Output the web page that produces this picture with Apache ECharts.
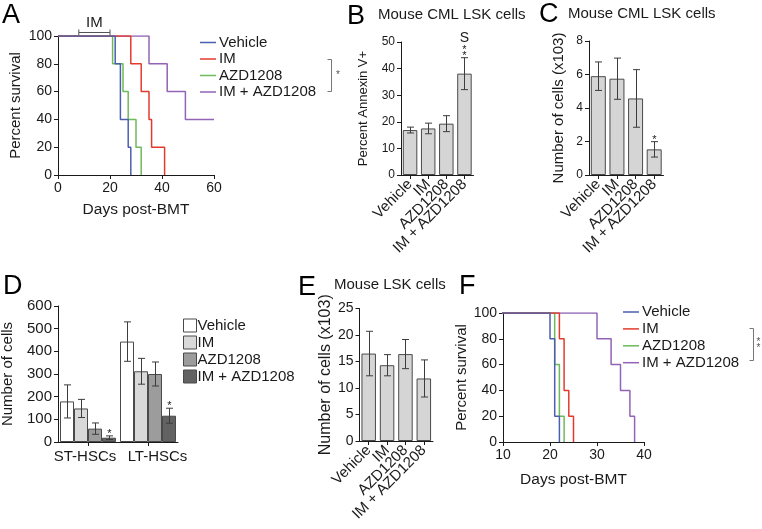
<!DOCTYPE html>
<html>
<head>
<meta charset="UTF-8">
<title>IM + AZD1208</title>
<style>
  html, body { margin: 0; padding: 0; background: #fff; }
  #fig { width: 762px; height: 529px; }
</style>
<script src="https://cdn.jsdelivr.net/npm/echarts@6/dist/echarts.min.js"></script>
</head>
<body>
<div id="fig"></div>
<script>
var groups = ['Vehicle', 'IM', 'AZD1208', 'IM + AZD1208'];

// A - survival (days post-BMT, percent)
var aVehicle = [[0, 100], [22, 80], [24, 40], [27, 20], [28, 0]];
var aIM = [[0, 100], [28, 80], [32, 60], [35, 40], [36, 20], [41, 0]];
var aAZD = [[0, 100], [21, 80], [25, 60], [27, 40], [30, 20], [32, 0]];
var aCombo = [[0, 100], [35, 80], [42, 60], [49, 40], [60, 40]];
var imDosing = [8, 20];

// B - percent annexin V+
var bMean = [16.9, 17.5, 19.3, 38.1];
var bErr = [1.1, 2.0, 3.0, 6.0];
var bStars = [0, 0, 0, 2];
var bExtra = ['', '', '', 'S'];

// C - number of cells (x103)
var cMean = [5.9, 5.75, 4.57, 1.53];
var cErr = [0.85, 1.23, 1.72, 0.46];
var cStars = [0, 0, 0, 1];

// D - number of cells
var dCats = ['ST-HSCs', 'LT-HSCs'];
var dMean = [[179, 443], [148, 312], [59, 300], [19, 116]];
var dErr = [[73, 87], [40, 57], [25, 53], [8, 33]];
var dStars = [[0, 0], [0, 0], [0, 0], [1, 1]];

// E - mouse LSK cells
var eMean = [16.5, 14.3, 16.4, 11.8];
var eErr = [4.2, 2.0, 2.75, 3.5];
var eStars = [0, 0, 0, 0];

// F - survival
var fVehicle = [[0, 100], [20, 80], [21, 20], [22, 0]];
var fIM = [[0, 100], [22, 80], [23, 40], [24, 20], [25, 0]];
var fAZD = [[0, 100], [21, 60], [22, 20], [23, 0]];
var fCombo = [[0, 100], [30, 80], [33, 60], [35, 40], [37, 20], [38, 0]];

var FONT = 'Liberation Sans, Arial, sans-serif';
var INK = '#1a1a1a';
var lineColors = ['#4b5fae', '#e23b2e', '#6cba5b', '#9263b6'];
var dColors = ['#ffffff', '#d9d9d9', '#9c9c9c', '#626262'];

var myChart = echarts.init(document.getElementById('fig'));

function valueAxis(grid, min, max, step, size, extra) {
  var ax = {
    type: 'value', gridIndex: grid, min: min, max: max, interval: step,
    splitLine: { show: false },
    axisLine: { show: true, onZero: false, lineStyle: { color: INK, width: 1 } },
    axisTick: { show: true, length: 4, lineStyle: { color: INK } },
    axisLabel: { color: INK, fontSize: size, fontFamily: FONT, margin: 6 },
    nameTextStyle: { color: INK, fontFamily: FONT, fontSize: 15 },
    nameLocation: 'middle'
  };
  return Object.assign(ax, extra || {});
}

function catAxis(grid, cats, size, rotate) {
  return {
    type: 'category', gridIndex: grid, data: cats,
    axisLine: { show: true, lineStyle: { color: INK, width: 1 } },
    axisTick: { show: true, alignWithLabel: true, length: 4, lineStyle: { color: INK } },
    axisLabel: { color: INK, fontSize: size, fontFamily: FONT, interval: 0, rotate: rotate, margin: 7 }
  };
}

function survival(name, data, color, xi) {
  return {
    type: 'line', name: name, xAxisIndex: xi, yAxisIndex: xi, data: data,
    step: 'end', symbol: 'none', clip: true, silent: true,
    lineStyle: { color: color, width: 1.5 }, itemStyle: { color: color }
  };
}

function plainBar(xi, vals, width) {
  return {
    type: 'bar', name: 'bars' + xi, xAxisIndex: xi, yAxisIndex: xi, data: vals,
    barWidth: width, silent: true,
    itemStyle: { color: '#d5d5d5', borderColor: '#4a4a4a', borderWidth: 1 }
  };
}

// error bars and significance marks, drawn on the panel's own scales
function errorBars(xi, means, errs, stars, slot, slots, barW, extra) {
  var rows = means.map(function (m, i) { return [i, m, errs[i], stars[i], extra ? extra[i] : '']; });
  return {
    type: 'custom', xAxisIndex: xi, yAxisIndex: xi, data: rows, silent: true, z: 5,
    renderItem: function (params, api) {
      var i = api.value(0), m = api.value(1), e = api.value(2), s = api.value(3);
      var ex = rows[params.dataIndex][4];
      var off = (slot - (slots - 1) / 2) * barW;
      var hi = api.coord([i, m + e]), lo = api.coord([i, m - e]);
      var x = Math.round(hi[0] + off) + 0.5, c = 3.5;
      var st = { stroke: '#3c3c3c', lineWidth: 1 };
      var kids = [
        { type: 'line', shape: { x1: x, y1: hi[1], x2: x, y2: lo[1] }, style: st },
        { type: 'line', shape: { x1: x - c, y1: hi[1], x2: x + c, y2: hi[1] }, style: st },
        { type: 'line', shape: { x1: x - c, y1: lo[1], x2: x + c, y2: lo[1] }, style: st }
      ];
      for (var k = 0; k < s; k++) {
        kids.push({ type: 'text', style: { text: '*', x: x, y: hi[1] - 2 - k * 5.6, fill: INK,
          font: '11px ' + FONT, textAlign: 'center', textVerticalAlign: 'middle' } });
      }
      if (ex) {
        kids.push({ type: 'text', style: { text: ex, x: x, y: hi[1] - 20, fill: INK,
          font: '14px ' + FONT, textAlign: 'center', textVerticalAlign: 'middle' } });
      }
      return { type: 'group', children: kids };
    }
  };
}

// IM dosing window bracket above panel A
var dosingSeries = {
  type: 'custom', xAxisIndex: 0, yAxisIndex: 0, data: [imDosing], silent: true, clip: false,
  renderItem: function (params, api) {
    var p1 = api.coord([api.value(0), 100]), p2 = api.coord([api.value(1), 100]);
    var y = Math.round(p1[1] - 4) + 0.5;
    var st = { stroke: '#555', lineWidth: 1 };
    return { type: 'group', children: [
      { type: 'line', shape: { x1: p1[0], y1: y, x2: p2[0], y2: y }, style: st },
      { type: 'line', shape: { x1: p1[0], y1: y - 3, x2: p1[0], y2: y + 3 }, style: st },
      { type: 'line', shape: { x1: p2[0], y1: y - 3, x2: p2[0], y2: y + 3 }, style: st },
      { type: 'text', style: { text: 'IM', x: (p1[0] + p2[0]) / 2, y: y - 10, fill: INK,
        font: '15px ' + FONT, textAlign: 'center', textVerticalAlign: 'middle' } }
    ] };
  }
};

function lineLegend(left, top, gap) {
  return {
    orient: 'vertical', left: left, top: top, itemGap: gap, padding: 0, selectedMode: false,
    icon: 'rect', itemWidth: 16, itemHeight: 1.5,
    itemStyle: { borderWidth: 0 },
    textStyle: { color: INK, fontSize: 15, fontFamily: FONT, padding: [0, 0, 0, -2] },
    data: groups
  };
}

var series = [];
// drawn last = on top, so vehicle goes last
series.push(survival(groups[3], aCombo, lineColors[3], 0));
series.push(survival(groups[2], aAZD, lineColors[2], 0));
series.push(survival(groups[1], aIM, lineColors[1], 0));
series.push(survival(groups[0], aVehicle, lineColors[0], 0));
series.push(survival(groups[3], fCombo, lineColors[3], 5));
series.push(survival(groups[2], fAZD, lineColors[2], 5));
series.push(survival(groups[1], fIM, lineColors[1], 5));
series.push(survival(groups[0], fVehicle, lineColors[0], 5));
series.push(dosingSeries);

series.push(plainBar(1, bMean, 14.5));
series.push(errorBars(1, bMean, bErr, bStars, 0, 1, 0, bExtra));
series.push(plainBar(2, cMean, 15));
series.push(errorBars(2, cMean, cErr, cStars, 0, 1, 0));
series.push(plainBar(4, eMean, 14.5));
series.push(errorBars(4, eMean, eErr, eStars, 0, 1, 0));

for (var g = 0; g < 4; g++) {
  series.push({
    type: 'bar', name: groups[g], xAxisIndex: 3, yAxisIndex: 3, data: dMean[g],
    barWidth: 14, barGap: '0%', silent: true,
    itemStyle: { color: dColors[g], borderColor: '#4a4a4a', borderWidth: 1 }
  });
}
for (var g2 = 0; g2 < 4; g2++) {
  series.push(errorBars(3, dMean[g2], dErr[g2], dStars[g2], g2, 4, 14));
}

function letter(t, x, y) {
  return { type: 'text', left: x, top: y, style: { text: t, fill: '#000', font: '27px ' + FONT } };
}
function heading(t, x, y) {
  return { type: 'text', left: x, top: y, style: { text: t, fill: INK, font: '15px ' + FONT } };
}
function sigBracket(x, y1, y2, stars, sx, sy) {
  return [
    { type: 'polyline', shape: { points: [[x - 4, y1], [x, y1], [x, y2], [x - 4, y2]] }, style: { stroke: '#777', lineWidth: 1, fill: null } },
    { type: 'text', x: sx, y: sy,
      style: { text: stars, fill: '#555', font: '10px ' + FONT, lineHeight: 6, textAlign: 'center', textVerticalAlign: 'middle' } }
  ];
}

var dCatData = [
  { value: dCats[0], textStyle: { padding: [0, 6, 0, 0] } },
  { value: dCats[1], textStyle: { padding: [0, 0, 0, 19] } }
];

var option = {
  animation: false,
  backgroundColor: '#fff',
  textStyle: { fontFamily: FONT },
  grid: [
    { left: 58, top: 36, width: 156, height: 139, outerBoundsMode: 'none' },
    { left: 401, top: 42, width: 72.5, height: 133, outerBoundsMode: 'none' },
    { left: 589, top: 41, width: 74.5, height: 134, outerBoundsMode: 'none' },
    { left: 58, top: 306, width: 120, height: 136, outerBoundsMode: 'none' },
    { left: 359.5, top: 308.5, width: 73.5, height: 132.5, outerBoundsMode: 'none' },
    { left: 503, top: 313, width: 141, height: 129, outerBoundsMode: 'none' }
  ],
  xAxis: [
    valueAxis(0, 0, 60, 20, 14, { name: 'Days post-BMT', nameGap: 27, nameTextStyle: { color: INK, fontFamily: FONT, fontSize: 15.5 } }),
    catAxis(1, groups, 15, 45),
    catAxis(2, groups, 15, 45),
    Object.assign(catAxis(3, dCatData, 15, 0), { data: dCatData }),
    catAxis(4, groups, 15, 45),
    valueAxis(5, 10, 40, 10, 14, { name: 'Days post-BMT', nameGap: 30, nameTextStyle: { color: INK, fontFamily: FONT, fontSize: 15.5 } })
  ],
  yAxis: [
    valueAxis(0, 0, 100, 20, 14, { name: 'Percent survival', nameGap: 35 }),
    valueAxis(1, 0, 50, 10, 12, { name: 'Percent Annexin V+', nameGap: 31, nameTextStyle: { color: INK, fontFamily: FONT, fontSize: 13 } }),
    valueAxis(2, 0, 8, 2, 12, { name: 'Number of cells (x103)', nameGap: 23 }),
    valueAxis(3, 0, 600, 100, 15, { name: 'Number of cells', nameGap: 43 }),
    valueAxis(4, 0, 25, 5, 14, { name: 'Number of cells (x103)', nameGap: 25, nameTextStyle: { color: INK, fontFamily: FONT, fontSize: 16 } }),
    valueAxis(5, 0, 100, 20, 14, { name: 'Percent survival', nameGap: 31 })
  ],
  legend: [
    lineLegend(200, 35, 1.5),
    lineLegend(623, 304.5, 1.9),
    {
      orient: 'vertical', left: 183, top: 318, itemGap: 2, padding: 0, selectedMode: false,
      icon: 'rect', itemWidth: 13, itemHeight: 13,
      textStyle: { color: INK, fontSize: 15, fontFamily: FONT, padding: [0, 0, 0, -4] },
      data: groups.map(function (n, i) {
        return { name: n, itemStyle: { color: dColors[i], borderColor: '#4a4a4a', borderWidth: 1 } };
      })
    }
  ],
  graphic: [
    letter('A', 2, 2), letter('B', 347, 3), letter('C', 539, 1),
    letter('D', 3, 273), letter('E', 298, 274), letter('F', 459, 273),
    heading('Mouse CML LSK cells', 378, 7),
    heading('Mouse CML LSK cells', 568, 6),
    heading('Mouse LSK cells', 334, 277)
  ].concat(sigBracket(331.5, 59.5, 91.5, '*', 338, 75))
   .concat(sigBracket(753.5, 328.5, 360.5, '*\n*', 758.5, 345)),
  series: series
};

myChart.setOption(option);
</script>
</body>
</html>
